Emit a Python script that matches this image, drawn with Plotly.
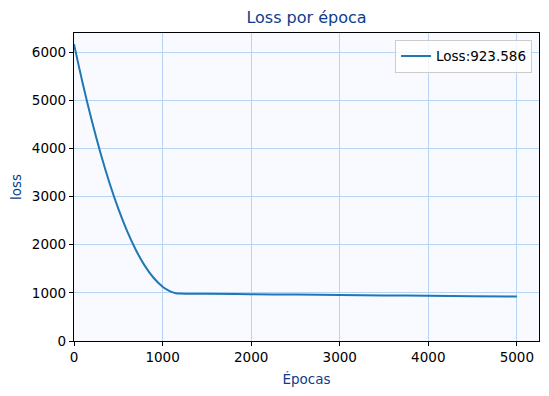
import plotly.graph_objects as go

epochs = [0, 100, 200, 300, 400, 500, 600, 700, 800, 900, 1000, 1050, 1100, 1150, 1200,
          1500, 2000, 2500, 3000, 3500, 4000, 4500, 5000]
loss = [6169, 5341, 4585, 3901, 3289, 2749, 2281, 1885, 1561, 1309, 1129, 1066, 1021, 994, 985,
        980, 972, 964, 956, 948, 940, 932, 923.586]
final_loss = "923.586"

title_color = "#0d3d8a"
fig = go.Figure()
fig.add_trace(go.Scatter(x=epochs, y=loss, mode="lines", line=dict(color="#1f77b4", width=2, shape="spline"),
                         name=f"Loss:{final_loss}"))

fig.update_layout(
    width=541, height=388,
    margin=dict(l=66, r=10, t=25, b=55, autoexpand=False),
    paper_bgcolor="white", plot_bgcolor="#f8faff",
    font=dict(family="DejaVu Sans", size=13.5, color="black"),
    title=dict(text="Loss por época", x=0.5, xanchor="center", y=1 - 9/388, yanchor="middle",
               xref="paper", yref="container", font=dict(size=16, color=title_color)),
    showlegend=True,
    legend=dict(x=0.985, y=0.978, xanchor="right", yanchor="top", bgcolor="rgba(255,255,255,0.8)",
                bordercolor="#cccccc", borderwidth=1, font=dict(size=13.5), itemwidth=30,
                tracegroupgap=0),
)
fig.update_xaxes(range=[0, 5250], tickvals=[0, 1000, 2000, 3000, 4000, 5000], showgrid=True,
                 gridcolor="#b8d4f5", gridwidth=1, showline=True, linecolor="black", linewidth=1.2,
                 mirror=True, ticks="outside", ticklen=4, tickcolor="black", zeroline=False,
                 automargin=False,
                 title=dict(text="Épocas", font=dict(color=title_color, size=13.5), standoff=10))
fig.update_yaxes(range=[0, 6400], tickvals=[0, 1000, 2000, 3000, 4000, 5000, 6000], showgrid=True,
                 gridcolor="#b8d4f5", gridwidth=1, showline=True, linecolor="black", linewidth=1.2,
                 mirror=True, ticks="outside", ticklen=4, tickcolor="black", zeroline=False,
                 automargin=False,
                 title=dict(text="loss", font=dict(color=title_color, size=13.5), standoff=8))

fig.write_html("out.html")
